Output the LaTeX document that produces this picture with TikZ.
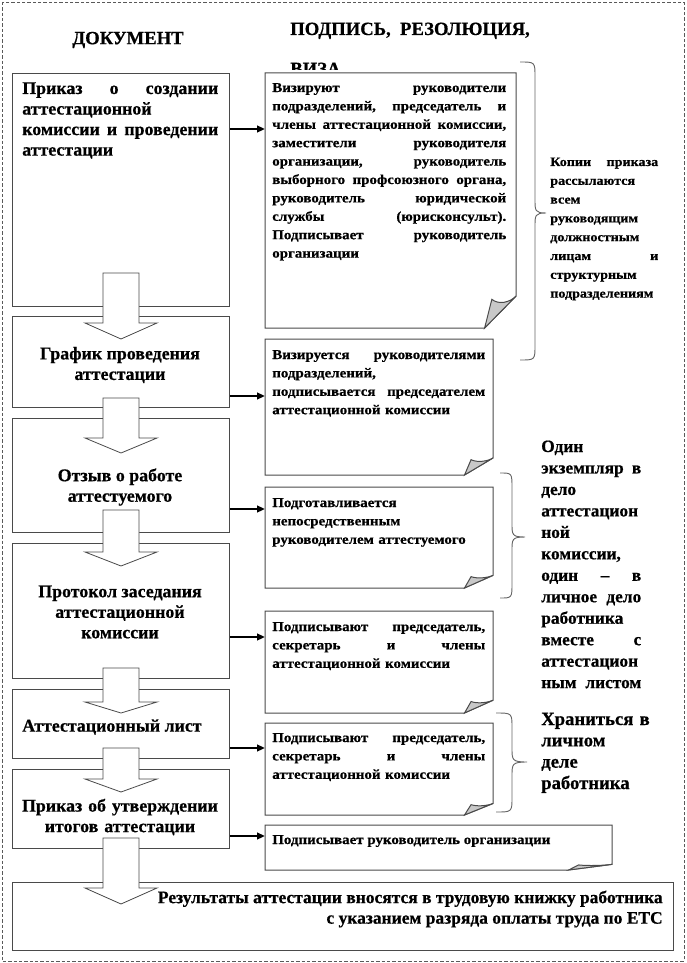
\documentclass[tikz,border=0pt]{standalone}
\usepackage{fontspec}
\setmainfont{Liberation Serif}[BoldFeatures={FakeBold=0.6}]
\newfontfamily\widefont{Liberation Serif}[FakeStretch=1.1,BoldFeatures={FakeBold=0.6}]
\usetikzlibrary{arrows.meta,calc}
\newcommand\JL[2]{\leavevmode\hbox to #1{#2}}
\newcommand\docbox[5]{%
  \node[dnode, minimum width={(#4-#2)*0.75pt}, minimum height={(#5-#3)*0.75pt}] (#1) at (#2,#3) {};
  \pgfmathsetmacro\dbfw{0.125*(#4-#2)}%
  \pgfmathsetmacro\dbfh{0.125*(#5-#3)}%
  \draw[docline] (#2,#3) -- (#4,#3) -- (#4,#5-\dbfh) -- (#4-\dbfw,#5) -- (#2,#5) -- cycle;
  \draw[docline, fill=flapgray] (#4-\dbfw,#5) -- (#4-0.77*\dbfw,#5-0.9*\dbfh)
     .. controls (#4-0.55*\dbfw,#5-0.72*\dbfh) and (#4-0.2*\dbfw,#5-0.8*\dbfh) .. (#4,#5-\dbfh) -- cycle;}
\newcommand\blockarr[5]{% from, to, rise, tip depth, head length
  \draw[barrow] ($(#1.south)+(-18,-#3)$) -- ($(#1.south)+(18,-#3)$)
    -- ($(#1.south |- #2.north)+(18,#4-#5)$) -- ($(#1.south |- #2.north)+(36,#4-#5)$)
    -- ($(#1.south |- #2.north)+(0,#4)$) -- ($(#1.south |- #2.north)+(-36,#4-#5)$)
    -- ($(#1.south |- #2.north)+(-18,#4-#5)$) -- cycle;}
\newcommand\curlybr[6]{% xend, xvert, xtip, ytop, ymid, ybot
  \draw[braceline] (#1,#4) .. controls (#2,#4) and (#2,#4) .. (#2,#4+15) -- (#2,#5-14)
    .. controls (#2,#5-2) and (#2,#5) .. (#3,#5) .. controls (#2,#5) and (#2,#5+2) .. (#2,#5+14)
    -- (#2,#6-15) .. controls (#2,#6) and (#2,#6) .. (#1,#6);}
\definecolor{flapgray}{HTML}{C8C8C8}
\definecolor{edge}{HTML}{4A4A4A}
\tikzset{
  lbox/.style={draw=edge, line width=0.75pt, anchor=north west, inner sep=0pt, fill=white},
  dnode/.style={anchor=north west, inner sep=0pt},
  docline/.style={draw=edge, line width=0.75pt},
  barrow/.style={draw=edge, fill=white, line width=0.6pt},
  harrow/.style={line width=1.5pt, -{Triangle[length=6pt,width=5pt]}},
  braceline/.style={draw=black!60, line width=0.7pt},
  border/.style={draw=black!65, line width=0.7pt, dash pattern=on 2.6pt off 1.4pt},
  ttl/.style={inner sep=0pt, font=\fontsize{14pt}{16pt}\selectfont\bfseries},
  ltext/.style={inner sep=0pt, font=\fontsize{13.4pt}{15.4pt}\selectfont\bfseries},
  btmtext/.style={inner sep=0pt, font=\fontsize{13.1pt}{15.4pt}\selectfont\bfseries},
  dtext/.style={inner sep=0pt, align=left, font=\widefont\bfseries\fontsize{10.2pt}{13.8pt}\selectfont},
  b1text/.style={inner sep=0pt, align=left, font=\widefont\bfseries\fontsize{9.6pt}{14.1pt}\selectfont},
  b2text/.style={inner sep=0pt, align=left, font=\fontsize{13pt}{16.1pt}\selectfont\bfseries},
  b3text/.style={inner sep=0pt, align=left, font=\fontsize{14pt}{16pt}\selectfont\bfseries}
}
\begin{document}
\begin{tikzpicture}[x=0.75pt,y=-0.75pt]
\useasboundingbox (0,0) rectangle (686,963);
\draw[border] (2,2) rectangle (684,961);
% titles
\node[ttl, anchor=center] (h1) at (128,40) {ДОКУМЕНТ};
\node[ttl, anchor=base west] (h2) at (290,35) {ПОДПИСЬ,\ \ РЕЗОЛЮЦИЯ,};
\begin{scope}
  \clip (280,50) rectangle (400,70);
  \node[ttl, anchor=base west] (h3) at (290,75) {ВИЗА};
\end{scope}
% left boxes
\node[lbox, minimum width=162.75pt, minimum height=174.75pt] (L1) at (12,73) {};
\node[lbox, minimum width=162.75pt, minimum height=68.25pt] (L2) at (12,316) {};
\node[lbox, minimum width=162.75pt, minimum height=85.5pt] (L3) at (12,418) {};
\node[lbox, minimum width=162.75pt, minimum height=101.25pt] (L4) at (12,543) {};
\node[lbox, minimum width=162.75pt, minimum height=51.75pt] (L5) at (12,689) {};
\node[lbox, minimum width=162.75pt, minimum height=59.25pt] (L6) at (12,769) {};
\node[lbox, minimum width=495.75pt, minimum height=51pt] (L7) at (12,882) {};
% document boxes
\docbox{D1}{265}{73}{516}{328}
\docbox{D2}{265}{339}{493}{475}
\docbox{D3}{265}{487}{493}{588}
\docbox{D4}{265}{611}{493}{713}
\docbox{D5}{265}{723}{493}{815}
\docbox{D6}{265}{825}{612}{870}
% block arrows
\blockarr{L1}{L2}{34}{23}{16}
\blockarr{L2}{L3}{10}{35}{15}
\blockarr{L3}{L4}{23}{23}{14}
\blockarr{L4}{L5}{11}{24}{11}
\blockarr{L5}{L6}{11}{23}{13}
\blockarr{L6}{L7}{11}{22}{16}
% left texts
\node[ltext, text width=147pt, align=left, anchor=base west] (T1) at (22,94)
  {\JL{147pt}{Приказ\hfill о\hfill создании}\\аттестационной\\\JL{147pt}{комиссии\hfill и\hfill проведении}\\аттестации};
\node[ltext, align=center] (T2) at (120,365) {График проведения\\аттестации};
\node[ltext, align=center] (T3) at (120,487) {Отзыв о работе\\аттестуемого};
\node[ltext, align=center] (T4) at (120,612) {Протокол заседания\\аттестационной\\комиссии};
\node[ltext, anchor=west] (T5) at (22,727) {Аттестационный лист};
\node[ltext, text width=147pt, align=center] (T6) at (120,817)
  {\JL{147pt}{Приказ\hfill об\hfill утверждении}\\итогов аттестации};
\node[btmtext, align=right, anchor=east] (T7) at (663,909)
  {Результаты аттестации вносятся в трудовую книжку работника\\с указанием разряда оплаты труда по ЕТС};
% document texts
\node[dtext, text width=175.5pt, anchor=base west] (DT1) at (272,92)
  {\JL{175.5pt}{Визируют\hfill руководители}\\
   \JL{175.5pt}{подразделений,\hfill председатель\hfill и}\\
   \JL{175.5pt}{члены\hfill аттестационной\hfill комиссии,}\\
   \JL{175.5pt}{заместители\hfill руководителя}\\
   \JL{175.5pt}{организации,\hfill руководитель}\\
   \JL{175.5pt}{выборного\hfill профсоюзного\hfill органа,}\\
   \JL{175.5pt}{руководитель\hfill юридической}\\
   \JL{175.5pt}{службы\hfill (юрисконсульт).}\\
   \JL{175.5pt}{Подписывает\hfill руководитель}\\
   организации};
\node[dtext, text width=159.75pt, anchor=base west] (DT2) at (272,359)
  {\JL{159.75pt}{Визируется\hfill руководителями}\\подразделений,\\
   \JL{159.75pt}{подписывается\hfill председателем}\\аттестационной комиссии};
\node[dtext, text width=159.75pt, anchor=base west] (DT3) at (272,507)
  {Подготавливается\\непосредственным\\руководителем аттестуемого};
\node[dtext, text width=159.75pt, anchor=base west] (DT4) at (272,631)
  {\JL{159.75pt}{Подписывают\hfill председатель,}\\\JL{159.75pt}{секретарь\hfill и\hfill члены}\\аттестационной комиссии};
\node[dtext, text width=159.75pt, anchor=base west] (DT5) at (272,742)
  {\JL{159.75pt}{Подписывают\hfill председатель,}\\\JL{159.75pt}{секретарь\hfill и\hfill члены}\\аттестационной комиссии};
\node[dtext, anchor=base west] (DT6) at (272,844) {Подписывает руководитель организации};
% horizontal arrows
\coordinate (a1) at (0,129);
\coordinate (a2) at (0,396);
\coordinate (a3) at (0,509);
\coordinate (a4) at (0,637);
\coordinate (a5) at (0,748);
\coordinate (a6) at (0,836);
\draw[harrow] (L1.east |- a1) -- (D1.west |- a1);
\draw[harrow] (L2.east |- a2) -- (D2.west |- a2);
\draw[harrow] (L3.east |- a3) -- (D3.west |- a3);
\draw[harrow] (L4.east |- a4) -- (D4.west |- a4);
\draw[harrow] (L5.east |- a5) -- (D5.west |- a5);
\draw[harrow] (L6.east |- a6) -- (D6.west |- a6);
% braces
\curlybr{520}{535}{546}{62}{213}{360}
\curlybr{500}{512}{525}{473}{537}{598}
\curlybr{496}{512}{527}{713}{762}{812}
% brace texts
\node[b1text, text width=81pt, anchor=base west] (BT1) at (550,166)
  {\JL{81pt}{Копии\hfill приказа}\\рассылаются\\всем\\руководящим\\должностным\\\JL{81pt}{лицам\hfill и}\\структурным\\подразделениям};
\node[b2text, text width=75pt, anchor=base west] (BT2) at (541,452)
  {Один\\\JL{75pt}{экземпляр\hfill в}\\дело\\аттестацион\\ной\\комиссии,\\\JL{75pt}{один\hfill –\hfill в}\\
   \JL{75pt}{личное\hfill дело}\\работника\\\JL{75pt}{вместе\hfill с}\\аттестацион\\\JL{75pt}{ным\hfill листом}};
\node[b3text, text width=90pt, anchor=base west] (BT3) at (541,725)
  {Храниться в\\личном\\деле\\работника};
\end{tikzpicture}
\end{document}
